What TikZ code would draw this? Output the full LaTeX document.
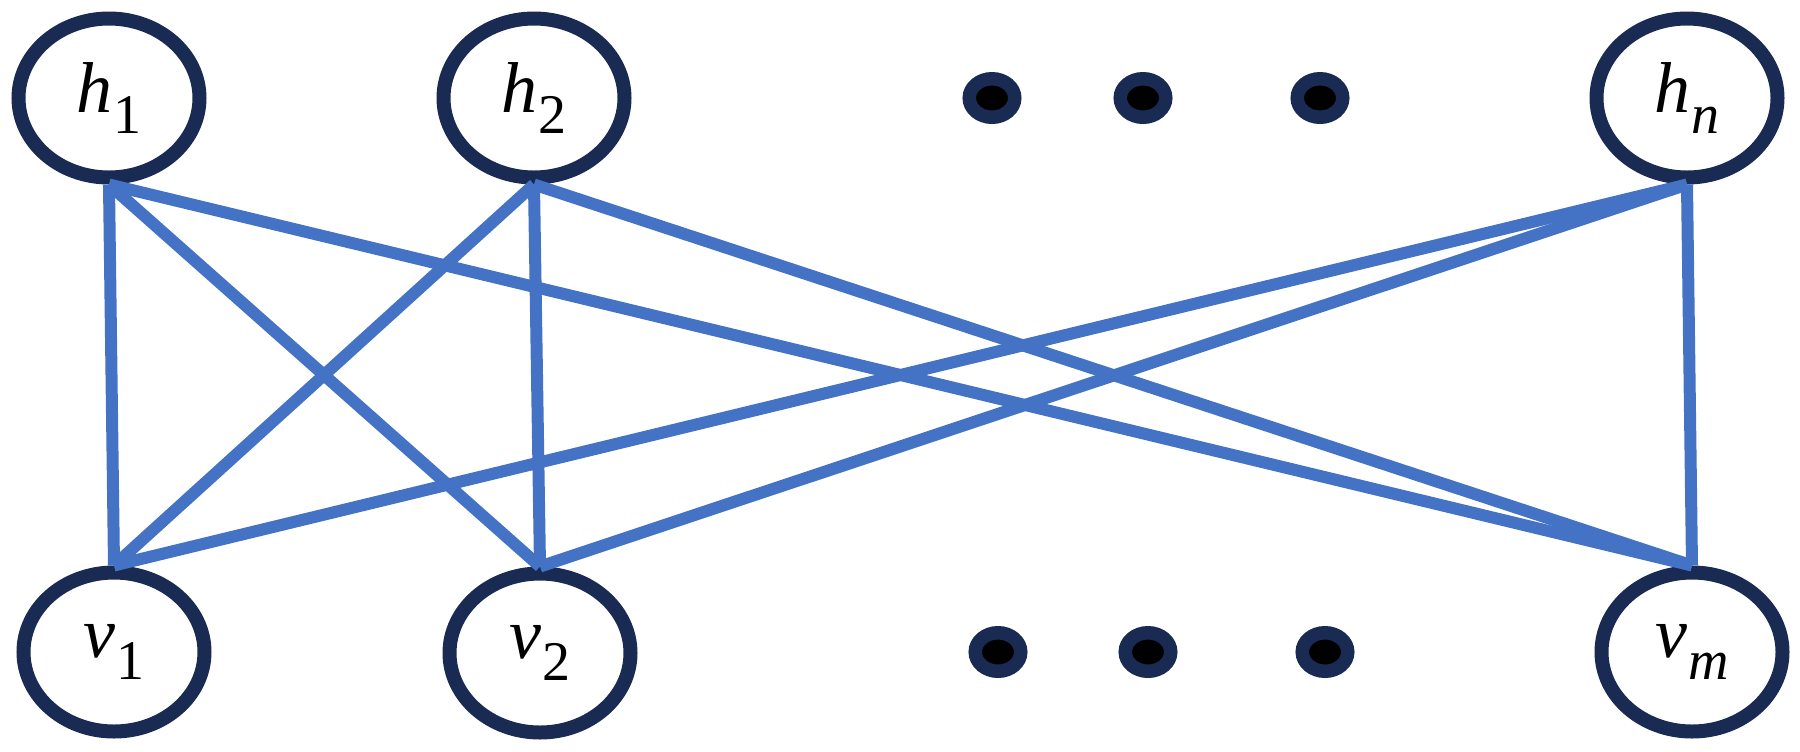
\documentclass[tikz,border=0pt]{standalone}
\usepackage{fontspec}
\setmainfont{Liberation Serif}
\usetikzlibrary{shapes.geometric}
\definecolor{navy}{RGB}{25,43,82}
\definecolor{edgeblue}{RGB}{68,114,196}
\newcommand\unitlab[2]{\textit{#1}\kern0.01em\raisebox{-0.3em}{\fontsize{28}{30}\selectfont #2}}
\begin{document}
\begin{tikzpicture}[x=0.5pt,y=-0.5pt,
  unit/.style={ellipse,draw=navy,line width=7pt,fill=white,inner sep=0pt,
    minimum width=90.5pt,minimum height=79.5pt,font=\fontsize{36}{40}\selectfont},
  dotnode/.style={ellipse,draw=navy,fill=black,line width=6.75pt,inner sep=0pt,
    minimum width=22.75pt,minimum height=19.25pt},
  link/.style={draw=edgeblue,line width=6pt}]
\useasboundingbox (0,0) rectangle (1800,751);
\node[unit] (h1) at (109,98) {\unitlab{h}{1}};
\node[unit] (h2) at (534,98) {\unitlab{h}{2}};
\node[unit] (hn) at (1687,98) {\unitlab{h}{\textit{n}}};
\node[unit] (v1) at (114,652) {\unitlab{v}{1}};
\node[unit] (v2) at (540,653) {\unitlab{v}{2}};
\node[unit] (vm) at (1692,652) {\unitlab{v}{\textit{m}}};
\node[dotnode] (t1) at (992,98) {};
\node[dotnode] (t2) at (1143,98) {};
\node[dotnode] (t3) at (1320,98) {};
\node[dotnode] (b1) at (998,652) {};
\node[dotnode] (b2) at (1148,652) {};
\node[dotnode] (b3) at (1325,652) {};
\foreach \h in {h1,h2,hn}{
  \foreach \v in {v1,v2,vm}{
    \draw[link] (\h.south) -- (\v.north);
  }
}
\end{tikzpicture}
\end{document}
